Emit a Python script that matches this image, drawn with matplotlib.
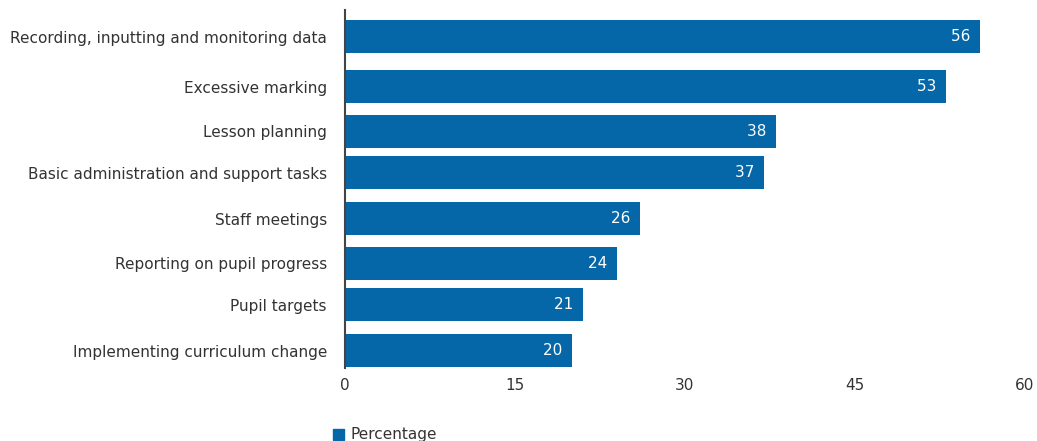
import matplotlib.pyplot as plt
from matplotlib.patches import Rectangle

plt.rcParams["font.family"] = ["DejaVu Sans"]

# data
TASKS = [
    "Recording, inputting and monitoring data",
    "Excessive marking",
    "Lesson planning",
    "Basic administration and support tasks",
    "Staff meetings",
    "Reporting on pupil progress",
    "Pupil targets",
    "Implementing curriculum change",
]
PERCENT = [56, 53, 38, 37, 26, 24, 21, 20]
XTICKS = [0, 15, 30, 45, 60]
SERIES_NAME = "Percentage"

# layout: bar centres in pixel rows (the source spaces them unevenly)
ROWS = [36.5, 86.5, 131.5, 172.5, 218.5, 263.5, 304.5, 350.5]
BAR_H = 33
BLUE = "#0567a8"
TXT = "#333333"
FS = 11

W, H, DPI = 1037, 441, 100
fig = plt.figure(figsize=(W / DPI, H / DPI), dpi=DPI)
ax = fig.add_axes([345 / W, (H - 368) / H, (1025 - 345) / W, (368 - 10) / H])

ax.barh(ROWS, PERCENT, height=BAR_H, color=BLUE, zorder=2)
for y, v in zip(ROWS, PERCENT):
    ax.text(v, y, f"{v}  ", ha="right", va="center", color="white",
            fontsize=FS, zorder=3)

ax.set_xlim(0, 60)
ax.set_ylim(368, 10)
ax.set_xticks(XTICKS)
ax.set_yticks(ROWS)
ax.set_yticklabels(TASKS)
ax.tick_params(axis="both", length=0, labelsize=FS, labelcolor=TXT)
ax.tick_params(axis="y", pad=13)
ax.tick_params(axis="x", pad=7)
for s in ["top", "right", "bottom"]:
    ax.spines[s].set_visible(False)
ax.spines["left"].set_color("#444444")
ax.spines["left"].set_linewidth(1.5)
ax.spines["left"].set_zorder(4)

# legend at the bottom
fig.patches.append(Rectangle((333 / W, 1 / H), 11 / W, 11 / H,
                             transform=fig.transFigure, color=BLUE))
fig.text(350 / W, 6 / H, SERIES_NAME, ha="left", va="center",
         fontsize=FS, color=TXT)

fig.savefig("out.png", dpi=DPI)
